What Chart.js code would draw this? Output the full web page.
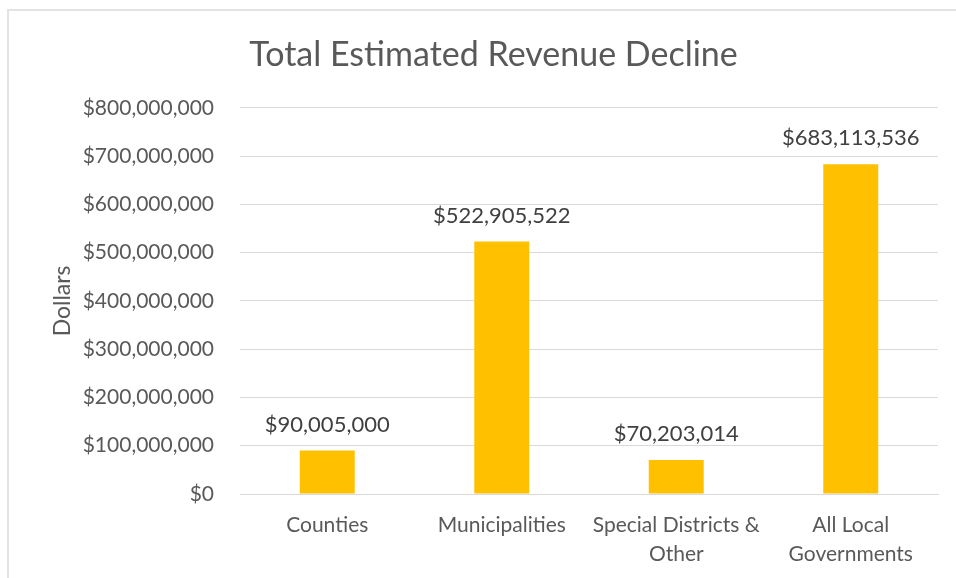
<!DOCTYPE html>
<html lang="en">
<head>
    <meta charset="UTF-8">
    <title>Total Estimated Revenue Decline</title>
    <script src="https://cdn.jsdelivr.net/npm/chart.js"></script>
    <style>
        html, body { margin: 0; padding: 0; background: #fff; }
        #frame {
            position: absolute; left: 7px; top: 9px; width: 960px; height: 600px;
            border-top: 2px solid #e3e3e3; border-left: 2px solid #e3e3e3;
        }
        #wrap { position: absolute; left: 0; top: 0; width: 956px; height: 578px; }
    </style>
</head>
<body>
    <div id="frame"></div>
    <div id="wrap"><canvas id="myChart" width="956" height="578"></canvas></div>
    <script>
        // chart data
        const categories = ['Counties', 'Municipalities', ['Special Districts &', 'Other'], ['All Local', 'Governments']];
        const revenueDecline = [90005000, 522905522, 70203014, 683113536];
        const yTicks = [0, 100000000, 200000000, 300000000, 400000000, 500000000, 600000000, 700000000, 800000000];

        const money = v => '$' + v.toLocaleString('en-US');
        const fontFamily = 'Lato, "Open Sans", sans-serif';

        // labels above the bars
        const barLabels = {
            id: 'barLabels',
            afterDatasetsDraw(chart) {
                const ctx = chart.ctx;
                const meta = chart.getDatasetMeta(0);
                ctx.save();
                ctx.font = '22px ' + fontFamily;
                ctx.fillStyle = '#404040';
                ctx.textAlign = 'center';
                ctx.textBaseline = 'middle';
                meta.data.forEach((bar, i) => {
                    ctx.fillText(money(revenueDecline[i]), bar.x, bar.y - 26);
                });
                ctx.restore();
            }
        };

        const ctx = document.getElementById('myChart').getContext('2d');
        const myChart = new Chart(ctx, {
            type: 'bar',
            data: {
                labels: categories,
                datasets: [{
                    label: 'Dollars',
                    data: revenueDecline,
                    backgroundColor: '#FFC000',
                    barPercentage: 0.63,
                    categoryPercentage: 0.5
                }]
            },
            options: {
                responsive: false,
                animation: false,
                layout: { padding: { left: 49, right: 18, top: 0, bottom: 0 } },
                scales: {
                    x: {
                        grid: { display: false },
                        border: { color: '#d9d9d9', width: 1 },
                        ticks: {
                            color: '#595959',
                            padding: 9,
                            maxRotation: 0,
                            autoSkip: false,
                            font: { family: fontFamily, size: 21, lineHeight: 1.38 }
                        },
                        afterFit: scale => { scale.height = 578 - 494; }
                    },
                    y: {
                        min: 0,
                        max: 800000000,
                        afterBuildTicks: scale => { scale.ticks = yTicks.map(v => ({ value: v })); },
                        grid: { color: '#d9d9d9', drawTicks: false },
                        border: { display: false },
                        ticks: {
                            color: '#595959',
                            padding: 26,
                            font: { family: fontFamily, size: 21 },
                            callback: v => money(v)
                        },
                        title: {
                            display: true,
                            text: 'Dollars',
                            color: '#595959',
                            padding: 0,
                            font: { family: fontFamily, size: 23 }
                        },
                        afterFit: scale => { scale.width = 240 - 49; }
                    }
                },
                plugins: {
                    legend: { display: false },
                    tooltip: { enabled: false },
                    title: {
                        display: true,
                        text: 'Total Estimated Revenue Decline',
                        color: '#595959',
                        padding: { top: 35, bottom: 32 },
                        font: { family: fontFamily, size: 34, weight: 'normal', lineHeight: 1.2 }
                    }
                }
            },
            plugins: [barLabels]
        });
    </script>
</body>
</html>
